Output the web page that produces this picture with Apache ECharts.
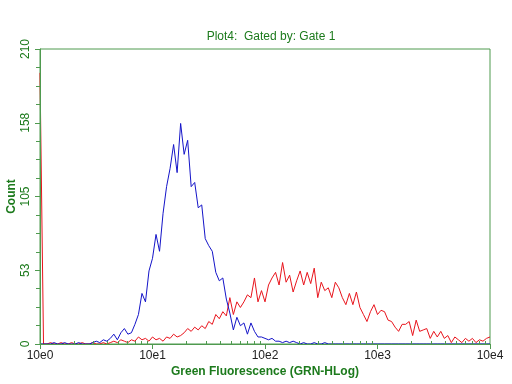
<!DOCTYPE html>
<html>
<head>
<meta charset="utf-8">
<script src="https://cdn.jsdelivr.net/npm/echarts@6/dist/echarts.min.js"></script>
<style>html,body{margin:0;padding:0;background:#fff}#c{width:512px;height:384px}</style>
</head>
<body>
<div id="c"></div>
<script>
// Histogram channels: 128 bins spanning 4 decades (10e0 .. 10e4)
var channelsPerDecade = 32;
var xTickLabels = ['10e0', '10e1', '10e2', '10e3', '10e4'];
var yTickLabels = ['0', '53', '105', '158', '210'];

var blueCounts = [
  0,0,0,0,1,0,0,1,0,0, 0,1,0,0,0,1,2,1,3,2,
  4,7,3,8,11,7,8,14,21,36, 30,52,61,78,66,93,112,125,142,122,
  157,135,145,112,115,97,99,75,70,66, 51,45,47,32,22,10,19,13,15,7,
  15,9,5,5,4,3,4,2,2,1, 2,1,2,1,0,1,0,0,1,0,
  0,1,0,0,0,0,0,0,0,0, 0,0,0,0,0,0,0,0,0,0,
  0,0,0,0,0,0,0,0,0,0, 0,0,0,0,0,0,0,0,0,0,
  0,0,0,0,0,0,0,0,0
];
var redCounts = [
  193,0,0,1,0,0,1,0,0,1, 0,0,1,0,0,1,0,0,1,0,
  1,2,1,3,2,1,3,2,5,3, 4,2,5,3,4,2,5,4,7,5,
  6,8,11,9,12,10,13,11,16,14, 21,18,23,20,33,21,30,26,30,35,
  33,47,30,38,30,42,47,51,42,58, 44,49,37,45,52,42,51,43,54,33,
  44,38,40,33,44,40,33,28,36,28, 37,26,21,16,23,28,21,24,23,17,
  16,12,9,14,14,16,6,17,9,10, 11,4,9,5,9,4,6,1,5,3,
  1,4,2,4,1,3,2,4,5
];

function toPairs(arr) {
  return arr.map(function (v, i) { return [Math.pow(10, i / channelsPerDecade), v]; });
}

var minorX = [];
for (var d = 0; d < 4; d++) for (var k = 2; k <= 9; k++) minorX.push(k * Math.pow(10, d));
var majorX = [1, 10, 100, 1000, 10000];

var green = '#4f9a4f';
var textGreen = '#1c7a1c';
var font = '"Liberation Sans", Arial, sans-serif';

var chart = echarts.init(document.getElementById('c'), null, {renderer: 'canvas'});
chart.setOption({
  animation: false,
  backgroundColor: '#ffffff',
  title: {
    text: 'Plot4:  Gated by: Gate 1',
    left: 266, top: 26, textAlign: 'center',
    textStyle: {color: textGreen, fontSize: 12, fontWeight: 'normal', fontFamily: font}
  },
  grid: {left: 40, right: 22, top: 49, bottom: 40, outerBoundsMode: 'none', containLabel: false,
    show: true, borderColor: green, borderWidth: 1, backgroundColor: 'transparent'},
  xAxis: [{
    type: 'log', logBase: 10, min: 1, max: 10000, z: 5,
    axisLine: {show: true, lineStyle: {color: green, width: 1}},
    axisTick: {show: true, customValues: majorX, length: 5, inside: false, lineStyle: {color: green}},
    axisLabel: {
      customValues: majorX, color: '#222', fontSize: 12, fontFamily: font, margin: 6,
      formatter: function (v) { return xTickLabels[Math.round(Math.log10(v))]; }
    },
    splitLine: {show: false}, minorTick: {show: false},
    name: 'Green Fluorescence (GRN-HLog)', nameLocation: 'middle', nameGap: 22, nameMoveOverlap: false,
    nameTextStyle: {color: textGreen, fontSize: 12, fontWeight: 'bold', fontFamily: font}
  }, {
    type: 'log', logBase: 10, min: 1, max: 10000, position: 'bottom', z: 5,
    axisLine: {show: false},
    axisTick: {show: true, customValues: minorX, length: 3, inside: true, lineStyle: {color: green}},
    axisLabel: {show: false}, splitLine: {show: false}
  }],
  yAxis: {
    type: 'value', min: 0, max: 210, interval: 52.5, z: 5,
    axisLine: {show: true, lineStyle: {color: green, width: 1}},
    axisTick: {show: true, length: 5, lineStyle: {color: green}},
    minorTick: {show: true, splitNumber: 4, length: 4, lineStyle: {color: green}},
    splitLine: {show: false},
    axisLabel: {
      rotate: 90, color: textGreen, fontSize: 12, fontFamily: font, margin: 8,
      formatter: function (v) { return yTickLabels[Math.round(v / 52.5)]; }
    },
    name: 'Count', nameLocation: 'middle', nameGap: 22, nameRotate: 90, nameMoveOverlap: false,
    nameTextStyle: {color: textGreen, fontSize: 12, fontWeight: 'bold', fontFamily: font}
  },
  series: [{
    type: 'line', xAxisIndex: 0, data: toPairs(redCounts), showSymbol: false, symbol: 'none',
    lineStyle: {color: '#e8141c', width: 1}, itemStyle: {color: '#e8141c'}, z: 3
  }, {
    type: 'line', xAxisIndex: 0, data: toPairs(blueCounts), showSymbol: false, symbol: 'none',
    lineStyle: {color: '#1414c8', width: 1}, itemStyle: {color: '#1414c8'}, z: 4
  }]
});
</script>
</body>
</html>
